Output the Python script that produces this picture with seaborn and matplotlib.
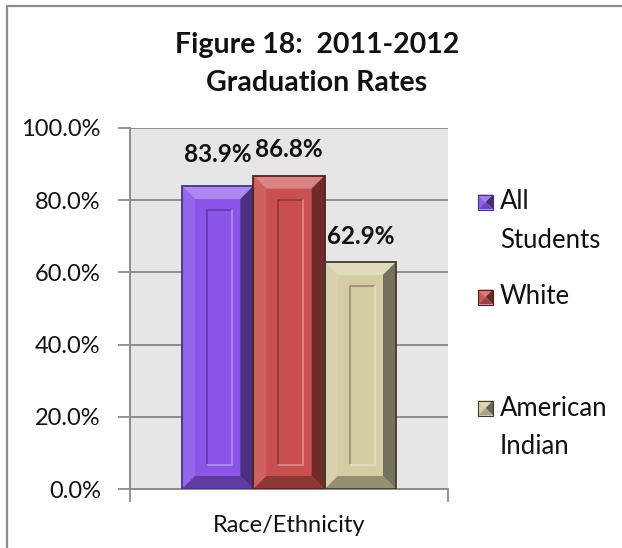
import matplotlib
matplotlib.use("Agg")
import matplotlib.pyplot as plt
from matplotlib.patches import Polygon, Rectangle
from matplotlib.lines import Line2D
import matplotlib.colors as mcolors
import seaborn as sns
import pandas as pd

# Chart data
groups = ["All Students", "White", "American Indian"]
rates = [83.9, 86.8, 62.9]
category = "Race/Ethnicity"
y_ticks = [0, 20, 40, 60, 80, 100]

# Styling
bar_colors = ["#8a55e8", "#c9504e", "#d4cca2"]
edge_colors = ["#3a3a80", "#5a1e1e", "#3e3d2c"]
label_offsets_pt = [23, 18.5, 18.5]

sns.set_theme(style="white")
FONT = "Lato"
plt.rcParams["font.family"] = [FONT, "DejaVu Sans"]

W, H = 622, 548
fig = plt.figure(figsize=(W / 100, H / 100), dpi=100)
ax = fig.add_axes([130 / W, 1 - 489 / H, 318 / W, 361 / H])

df = pd.DataFrame({"category": [category] * len(groups), "group": groups, "rate": rates})

sns.barplot(data=df, x="category", y="rate", hue="group", hue_order=groups,
            palette=bar_colors, width=0.673, gap=0, saturation=1,
            edgecolor="none", linewidth=0, legend=False, ax=ax, zorder=3)

ax.set_xlim(-0.5, 0.5)
ax.set_ylim(0, 100)
ax.set_facecolor("#e6e6e6")
ax.set_yticks(y_ticks)
ax.set_yticklabels([f"{v:.1f}%" for v in y_ticks], fontsize=17, color="#111111")
ax.yaxis.grid(True, color="#8c8c8c", linewidth=1.4, zorder=0)
ax.set_axisbelow(True)
ax.tick_params(axis="y", length=9, width=1.3, color="#8c8c8c", pad=12, direction="out", left=True)

# x axis: single category label, boundary ticks at the plot edges
ax.set_xticks([0])
ax.set_xticklabels([category], fontsize=17, color="#111111")
ax.set_xticks([-0.5, 0.5], minor=True)
ax.tick_params(axis="x", which="major", length=0, pad=19)
ax.tick_params(axis="x", which="minor", length=9, width=1.3, color="#8c8c8c",
               direction="out", bottom=True)
ax.set_xlabel("")
ax.set_ylabel("")

for side in ["top", "right"]:
    ax.spines[side].set_visible(False)
for side in ["left", "bottom"]:
    ax.spines[side].set_color("#8c8c8c")
    ax.spines[side].set_linewidth(1.4)

# pixel-to-data scale for bevel decorations
fig.canvas.draw()
p0 = ax.transData.transform((0, 0))
px_x = ax.transData.transform((1, 0))[0] - p0[0]
px_y = ax.transData.transform((0, 1))[1] - p0[1]


def shade(c, f):
    r, g, b = mcolors.to_rgb(c)
    if f >= 0:
        return (r + (1 - r) * f, g + (1 - g) * f, b + (1 - b) * f)
    return (r * (1 + f), g * (1 + f), b * (1 + f))


bars = [p for p in ax.patches if p.get_height() > 0]
for patch, col, ec, val, off in zip(bars, bar_colors, edge_colors, rates, label_offsets_pt):
    x0, y0 = patch.get_x(), patch.get_y()
    x1, y1 = x0 + patch.get_width(), y0 + patch.get_height()
    bx, by = 13 / px_x, 13 / px_y
    faces = [
        ([(x0, y1), (x1, y1), (x1 - bx, y1 - by), (x0 + bx, y1 - by)], shade(col, 0.3)),
        ([(x0, y0), (x0, y1), (x0 + bx, y1 - by), (x0 + bx, y0 + by)], shade(col, 0.1)),
        ([(x1, y0), (x1, y1), (x1 - bx, y1 - by), (x1 - bx, y0 + by)], shade(col, -0.45)),
        ([(x0, y0), (x1, y0), (x1 - bx, y0 + by), (x0 + bx, y0 + by)], shade(col, -0.3)),
    ]
    for pts, fc in faces:
        ax.add_patch(Polygon(pts, closed=True, facecolor=fc, edgecolor="none", zorder=4))
    # inset panel in the middle of the bar face
    w = x1 - x0
    ix0, ix1 = x0 + 0.35 * w, x1 - 0.30 * w
    iy0, iy1 = y0 + 24 / px_y, y1 - 24 / px_y
    ax.add_line(Line2D([ix0, ix0, ix1], [iy0, iy1, iy1], color=shade(col, -0.3),
                       linewidth=1.2, zorder=5))
    ax.add_line(Line2D([ix0, ix1, ix1], [iy0, iy0, iy1], color=shade(col, 0.35),
                       linewidth=1.2, zorder=5))
    ax.add_patch(Rectangle((x0, y0), w, y1 - y0, facecolor="none", edgecolor=ec,
                           linewidth=1.3, zorder=6))
    ax.annotate(f"{val:.1f}%", xy=((x0 + x1) / 2, y1), xytext=(0, off),
                textcoords="offset points", ha="center", va="center",
                fontsize=17.5, fontweight="bold", color="#111111", zorder=7)

# Title
fig.text(317 / W, 1 - 45 / H, "Figure 18:  2011-2012", ha="center", va="center",
         fontsize=20.5, fontweight="bold", color="#111111")
fig.text(317 / W, 1 - 83 / H, "Graduation Rates", ha="center", va="center",
         fontsize=20.5, fontweight="bold", color="#111111")

# Legend with bevelled swatches
leg_y = [202, 297, 408]
for name, col, ec, yc in zip(groups, bar_colors, edge_colors, leg_y):
    s = 15
    lx0, lx1 = 478 / W, (478 + s) / W
    ly0, ly1 = 1 - (yc + s / 2) / H, 1 - (yc - s / 2) / H
    mx, my = (lx0 + lx1) / 2, (ly0 + ly1) / 2
    tris = [
        ([(lx0, ly1), (lx1, ly1), (mx, my)], shade(col, 0.25)),
        ([(lx0, ly0), (lx0, ly1), (mx, my)], shade(col, 0.05)),
        ([(lx1, ly0), (lx1, ly1), (mx, my)], shade(col, -0.5)),
        ([(lx0, ly0), (lx1, ly0), (mx, my)], shade(col, -0.2)),
    ]
    for pts, fc in tris:
        fig.patches.append(Polygon(pts, closed=True, facecolor=fc, edgecolor="none",
                                   transform=fig.transFigure, figure=fig))
    fig.patches.append(Rectangle((lx0, ly0), lx1 - lx0, ly1 - ly0, facecolor="none",
                                 edgecolor=ec, linewidth=0.8,
                                 transform=fig.transFigure, figure=fig))
    for i, word in enumerate(name.split(" ")):
        fig.text(500 / W, 1 - (yc + 38 * i) / H, word, ha="left", va="center",
                 fontsize=18.5, color="#111111")

# Chart frame
fig.add_artist(Line2D([7 / W, 7 / W, 1.01], [-0.01, 1 - 6 / H, 1 - 6 / H],
                      transform=fig.transFigure, color="#8c8c8c", linewidth=1.6))

fig.savefig("out.png", dpi=100)
